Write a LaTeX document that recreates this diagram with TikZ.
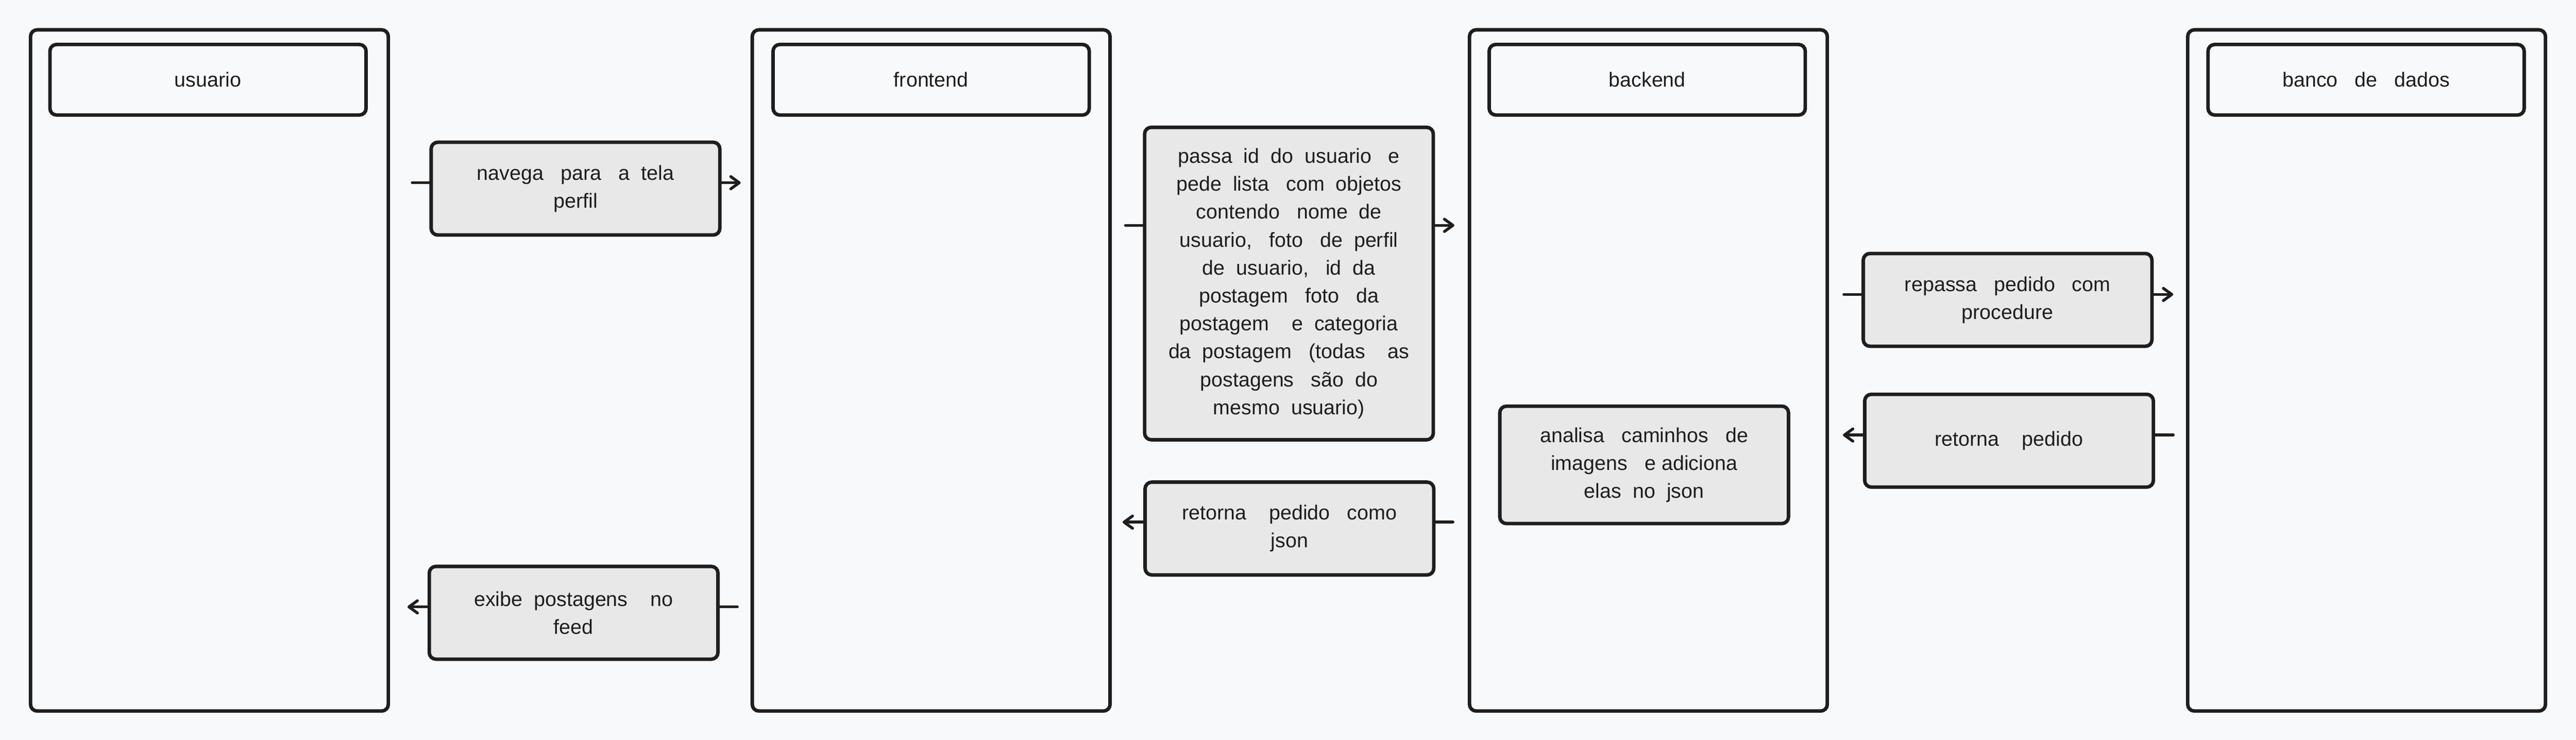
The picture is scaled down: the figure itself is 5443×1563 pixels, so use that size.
\documentclass[tikz,border=0pt]{standalone}
\usepackage{fontspec}
\setmainfont{Liberation Sans}
\usetikzlibrary{arrows.meta}
\definecolor{bgc}{HTML}{F8F9FB}
\definecolor{ink}{HTML}{1E1E1E}
\definecolor{msgfill}{HTML}{E8E8E8}
\begin{document}
\begin{tikzpicture}[x=0.25pt,y=-0.25pt,
  base/.style={draw=ink, text=ink, line width=1.85pt, inner sep=0pt, align=center,
    font=\fontsize{10.75}{14.75}\selectfont},
  lane/.style={base, rounded corners=3.5pt, fill=bgc, minimum width=189pt, minimum height=359.75pt},
  head/.style={base, rounded corners=3.5pt, fill=bgc, minimum width=167pt, minimum height=37.25pt},
  msg/.style={base, rounded corners=3.5pt, fill=msgfill, minimum width=152.5pt, minimum height=49pt},
  conn/.style={draw=ink, line width=1.5pt, line cap=round},
  tip/.style={-{Straight Barb[length=4.5pt,width=6.5pt,round]}}
]
\path[use as bounding box, fill=bgc] (0,0) rectangle (5443,1563);

% arrow end points
\coordinate (a1s) at (871,386);  \coordinate (a1e) at (1565,386);
\coordinate (a2s) at (2378,476); \coordinate (a2e) at (3073,476);
\coordinate (a3s) at (3896,622); \coordinate (a3e) at (4592,622);
\coordinate (a4s) at (4592,919); \coordinate (a4e) at (3894,919);
\coordinate (a5s) at (3070,1103); \coordinate (a5e) at (2372,1103);
\coordinate (a6s) at (1558,1282); \coordinate (a6e) at (861,1282);

% lanes
\node[lane] (lu) at (442.5,782.5) {};
\node[lane] (lf) at (1967.5,782.5) {};
\node[lane] (lb) at (3483,782.5) {};
\node[lane] (ld) at (5000.5,782.5) {};

% headers
\node[head] (hu) at (439.5,168.5) {usuario};
\node[head] (hf) at (1967.5,168.5) {frontend};
\node[head] (hb) at (3480.5,168.5) {backend};
\node[head] (hd) at (4999.5,168.5) {banco~~~de~~~dados};

% messages
\node[msg] (m1) at (1216,398.5) {navega~~~para~~~a~~tela\\perfil};
\node[msg, minimum height=165pt] (m2) at (2723.5,599)
  {passa~~id~~do~~usuario~~~e\\
   pede~~lista~~~com~~objetos\\
   contendo~~~nome~~de\\
   usuario,~~~foto~~~de~~perfil\\
   de~~usuario,~~~id~~da\\
   postagem~~~foto~~~da\\
   postagem~~~~e~~categoria\\
   da~~postagem~~~(todas~~~~as\\
   postagens~~~são~~do\\
   mesmo~~usuario)};
\node[msg] (m3) at (4242,633.5) {repassa~~~pedido~~~com\\procedure};
\node[msg] (m4) at (4245,931) {retorna~~~~pedido};
\node[msg, minimum height=62pt] (m5) at (3474,982) {analisa~~~caminhos~~~de\\imagens~~~e~adiciona\\elas~~no~~json};
\node[msg] (m6) at (2724.5,1116.5) {retorna~~~~pedido~~~como\\json};
\node[msg] (m7) at (1212,1294.5) {exibe~~postagens~~~~no\\feed};

% connectors
\draw[conn] (a1s) -- (a1s -| m1.west);
\draw[conn,tip] (a1e -| m1.east) -- (a1e);
\draw[conn] (a2s) -- (a2s -| m2.west);
\draw[conn,tip] (a2e -| m2.east) -- (a2e);
\draw[conn] (a3s) -- (a3s -| m3.west);
\draw[conn,tip] (a3e -| m3.east) -- (a3e);
\draw[conn] (a4s) -- (a4s -| m4.east);
\draw[conn,tip] (a4e -| m4.west) -- (a4e);
\draw[conn] (a5s) -- (a5s -| m6.east);
\draw[conn,tip] (a5e -| m6.west) -- (a5e);
\draw[conn] (a6s) -- (a6s -| m7.east);
\draw[conn,tip] (a6e -| m7.west) -- (a6e);
\end{tikzpicture}
\end{document}
